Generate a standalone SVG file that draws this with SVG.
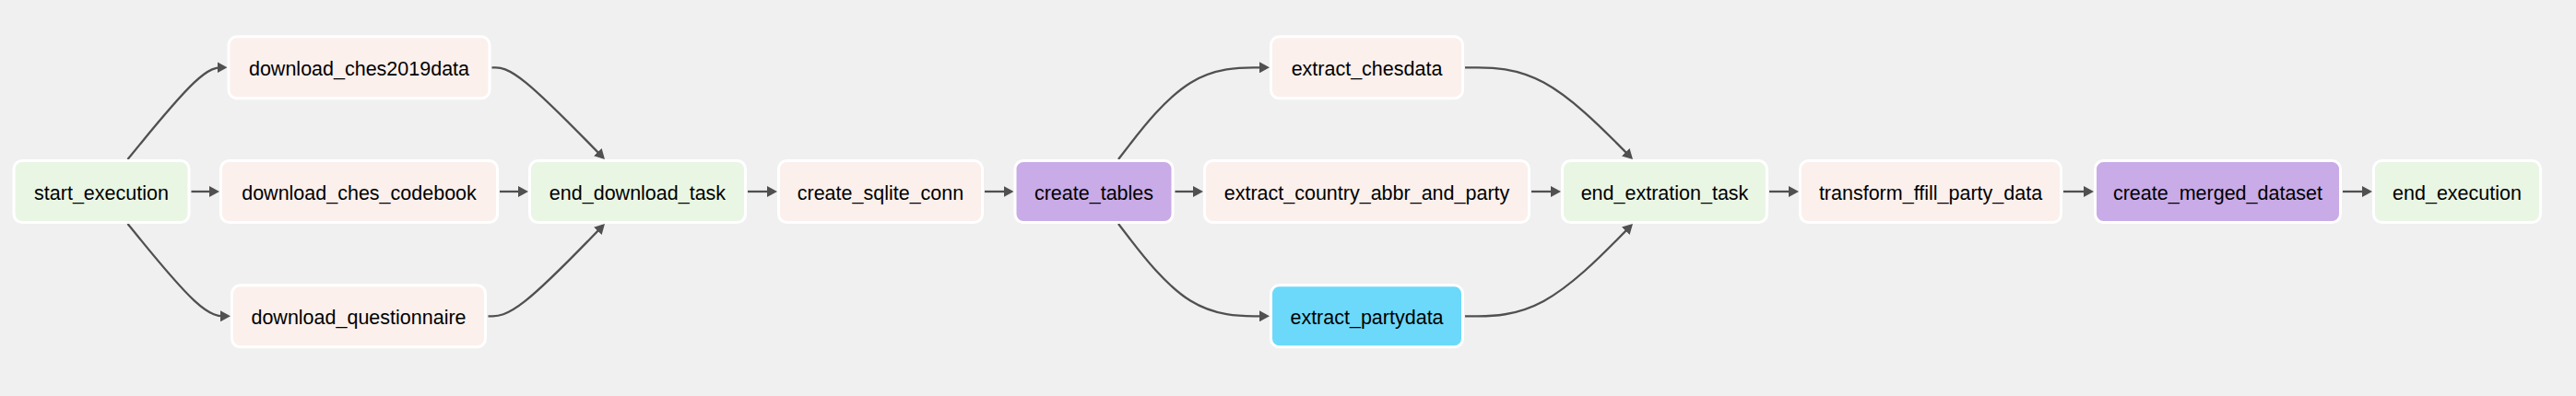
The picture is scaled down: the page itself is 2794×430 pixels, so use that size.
<svg xmlns="http://www.w3.org/2000/svg" width="2794" height="430" viewBox="0 0 2794 430">
<defs>
<style>
.node rect{stroke:#ffffff;stroke-width:3}
.dummy rect{fill:#eaf6e4}
.py rect{fill:#fbf0ec}
.sql rect{fill:#c9abe7}
.cy rect{fill:#6cd9fa}
.node text{font-family:"Liberation Sans",Arial,Helvetica,sans-serif;font-size:21.5px;fill:#000;text-anchor:middle}
.edges path{fill:none;stroke:#505050;stroke-width:2.3;marker-end:url(#arrow)}
</style>
<marker id="arrow" markerUnits="userSpaceOnUse" markerWidth="11" markerHeight="12" refX="8" refY="6" orient="auto">
<path d="M0,0 L11,6 L0,12 z" fill="#505050"/>
</marker>
</defs>
<rect x="0" y="0" width="2794" height="430" fill="#f0f0f0"/>
<g id="edges" class="edges">
<path d="M138.5,173 L152.08,156.38 C165.67,139.77 192.83,106.53 210.33,89.92 C227.83,73.3 235.67,73.3 239.58,73.3 L243.5,73.3"/>
<path d="M138.5,243 L152.08,259.72 C165.67,276.43 192.83,309.87 210.92,326.58 C229,343.3 238,343.3 242.5,343.3 L247,343.3"/>
<path d="M207.5,208 L235,208"/>
<path d="M533.5,73.3 L537.67,73.3 C541.83,73.3 550.17,73.3 570.23,89.57 C590.3,105.83 622.1,138.37 638,154.63 L653.9,170.9"/>
<path d="M529.5,343.3 L534.33,343.3 C539.17,343.3 548.83,343.3 569.57,326.93 C590.3,310.57 622.1,277.83 638,261.47 L653.9,245.1"/>
<path d="M542,208 L570,208"/>
<path d="M811,208 L840,208"/>
<path d="M1068,208 L1096.5,208"/>
<path d="M1213,173 L1225.83,156.38 C1238.67,139.77 1264.33,106.53 1291.17,89.92 C1318,73.3 1346,73.3 1360,73.3 L1374,73.3"/>
<path d="M1213,243 L1225.83,259.72 C1238.67,276.43 1264.33,309.87 1291.17,326.58 C1318,343.3 1346,343.3 1360,343.3 L1374,343.3"/>
<path d="M1274.5,208 L1302,208"/>
<path d="M1589,73.3 L1602.83,73.3 C1616.67,73.3 1644.33,73.3 1674.32,89.57 C1704.3,105.83 1736.6,138.37 1752.75,154.63 L1768.9,170.9"/>
<path d="M1589,343.3 L1602.83,343.3 C1616.67,343.3 1644.33,343.3 1674.32,326.93 C1704.3,310.57 1736.6,277.83 1752.75,261.47 L1768.9,245.1"/>
<path d="M1661,208 L1690,208"/>
<path d="M1919,208 L1948,208"/>
<path d="M2238,208 L2268,208"/>
<path d="M2541,208 L2570,208"/>
</g>
<g id="start_execution" class="node dummy"><rect x="15" y="174.5" width="190" height="67" rx="9"/><text x="110" y="216.8">start_execution</text></g>
<g id="download_ches2019data" class="node py"><rect x="248" y="39.8" width="283" height="67" rx="9"/><text x="389.5" y="82.1">download_ches2019data</text></g>
<g id="download_ches_codebook" class="node py"><rect x="239.5" y="174.5" width="300" height="67" rx="9"/><text x="389.5" y="216.8">download_ches_codebook</text></g>
<g id="download_questionnaire" class="node py"><rect x="251.5" y="309.8" width="275" height="67" rx="9"/><text x="389" y="352.1">download_questionnaire</text></g>
<g id="end_download_task" class="node dummy"><rect x="574.5" y="174.5" width="234" height="67" rx="9"/><text x="691.5" y="216.8">end_download_task</text></g>
<g id="create_sqlite_conn" class="node py"><rect x="844.5" y="174.5" width="221" height="67" rx="9"/><text x="955" y="216.8">create_sqlite_conn</text></g>
<g id="create_tables" class="node sql"><rect x="1101" y="174.5" width="171" height="67" rx="9"/><text x="1186.5" y="216.8">create_tables</text></g>
<g id="extract_chesdata" class="node py"><rect x="1378.5" y="39.8" width="208" height="67" rx="9"/><text x="1482.5" y="82.1">extract_chesdata</text></g>
<g id="extract_country_abbr_and_party" class="node py"><rect x="1306.5" y="174.5" width="352" height="67" rx="9"/><text x="1482.5" y="216.8">extract_country_abbr_and_party</text></g>
<g id="extract_partydata" class="node cy"><rect x="1378.5" y="309.8" width="208" height="67" rx="9"/><text x="1482.5" y="352.1">extract_partydata</text></g>
<g id="end_extration_task" class="node dummy"><rect x="1694.5" y="174.5" width="222" height="67" rx="9"/><text x="1805.5" y="216.8">end_extration_task</text></g>
<g id="transform_ffill_party_data" class="node py"><rect x="1952.5" y="174.5" width="283" height="67" rx="9"/><text x="2094" y="216.8">transform_ffill_party_data</text></g>
<g id="create_merged_dataset" class="node sql"><rect x="2272.5" y="174.5" width="266" height="67" rx="9"/><text x="2405.5" y="216.8">create_merged_dataset</text></g>
<g id="end_execution" class="node dummy"><rect x="2574.5" y="174.5" width="181" height="67" rx="9"/><text x="2665" y="216.8">end_execution</text></g>
</svg>
